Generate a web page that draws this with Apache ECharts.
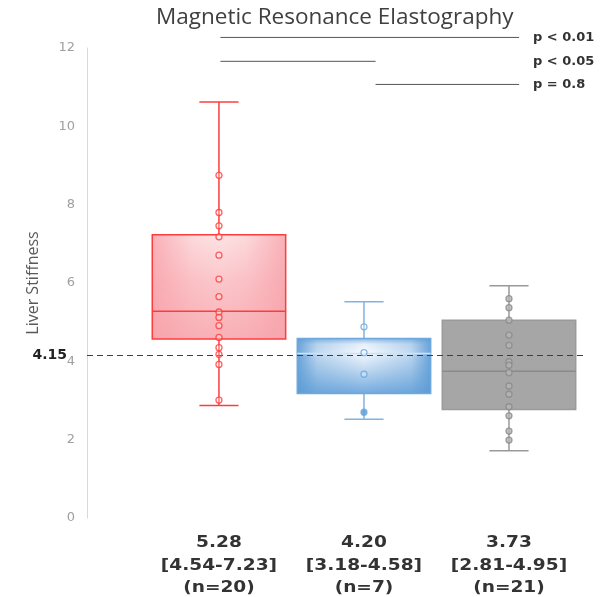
<!DOCTYPE html>
<html>
<head>
<meta charset="utf-8">
<script src="https://cdn.jsdelivr.net/npm/echarts@6/dist/echarts.min.js"></script>
<style>html,body{margin:0;padding:0;background:#fff}#c{width:601px;height:597px}</style>
</head>
<body>
<div id="c"></div>
<script>
// ---- data ----
const groupPos = [1, 2, 3];
const medianLabel = ['5.28', '4.20', '3.73'];
const iqrLabel = ['[4.54-7.23]', '[3.18-4.58]', '[2.81-4.95]'];
const counts = [20, 7, 21];
const boxMin = [2.87, 2.52, 1.72];
const boxQ1 = [4.57, 3.18, 2.77];
const boxMed = [5.28, 4.20, 3.75];
const boxQ3 = [7.23, 4.58, 5.05];
const boxMax = [10.62, 5.52, 5.93];
const redPoints = [8.75, 7.80, 7.46, 7.18, 6.71, 6.10, 5.65, 5.26, 5.12, 4.91, 4.61, 4.35, 4.18, 3.92, 3.01];
const bluePoints = [4.88, 4.22, 3.67, 2.70];
const grayPoints = [5.60, 5.37, 5.05, 4.67, 4.41, 3.99, 3.90, 3.71, 3.37, 3.16, 2.84, 2.61, 2.22, 1.99];
const refValue = 4.15;
const yTicks = [0, 2, 4, 6, 8, 10, 12];
// comparisons: [from, to, level, text]
const compFrom = [1.01, 1.01, 2.08];
const compTo = [3.07, 2.08, 3.07];
const compLevel = [12.27, 11.66, 11.07];
const compText = ['p < 0.01', 'p < 0.05', 'p = 0.8'];

// ---- styles ----
const LG = echarts.graphic.LinearGradient;
const boxStyles = [
  {
    stroke: '#ff3c3c',
    fill: new LG(0, 0, 0, 1, [{offset: 0, color: '#fde3e5'}, {offset: 0.45, color: '#fbc6ca'}, {offset: 1, color: '#f8b1b6'}]),
    overlay: new LG(0, 0, 1, 0, [{offset: 0, color: 'rgba(247,160,168,0.75)'}, {offset: 0.3, color: 'rgba(247,160,168,0.15)'}, {offset: 0.5, color: 'rgba(247,160,168,0)'}, {offset: 0.7, color: 'rgba(247,160,168,0.15)'}, {offset: 1, color: 'rgba(247,160,168,0.75)'}]),
    median: '#ff3c3c', whisker: '#ff3c3c'
  },
  {
    stroke: '#6fa8dc',
    fill: new LG(0, 0, 0, 1, [{offset: 0, color: '#8ebce6'}, {offset: 0.1, color: '#e6f0fa'}, {offset: 0.25, color: '#f7fafe'}, {offset: 0.55, color: '#c4dbf1'}, {offset: 1, color: '#74abdf'}]),
    overlay: new LG(0, 0, 1, 0, [{offset: 0, color: 'rgba(91,155,213,0.9)'}, {offset: 0.15, color: 'rgba(91,155,213,0.35)'}, {offset: 0.5, color: 'rgba(91,155,213,0)'}, {offset: 0.85, color: 'rgba(91,155,213,0.35)'}, {offset: 1, color: 'rgba(91,155,213,0.9)'}]),
    median: '#cfe2f4', whisker: '#7fb3e2'
  },
  { stroke: '#9a9a9a', fill: '#a6a6a6', overlay: null, median: '#8a8a8a', whisker: '#999999' }
];

const boxData = groupPos.map((x, i) => [x, boxMin[i], boxQ1[i], boxMed[i], boxQ3[i], boxMax[i]]);
const compData = compFrom.map((f, i) => [f, compTo[i], compLevel[i], i]);

function renderBox(params, api) {
  const i = params.dataIndex;
  const x = api.value(0);
  const lo = api.coord([x, api.value(1)]);
  const q1 = api.coord([x, api.value(2)]);
  const md = api.coord([x, api.value(3)]);
  const q3 = api.coord([x, api.value(4)]);
  const hi = api.coord([x, api.value(5)]);
  const base = api.coord([x, 0]);
  const w = api.size([0.92, 0])[0];
  const cw = api.size([0.27, 0])[0];
  const s = boxStyles[i];
  const cx = lo[0];
  const lw = 1.5;
  const rectShape = { x: cx - w / 2, y: q3[1], width: w, height: q1[1] - q3[1] };
  const children = [
    { type: 'line', shape: { x1: cx, y1: hi[1], x2: cx, y2: q3[1] }, style: { stroke: s.whisker, lineWidth: lw } },
    { type: 'line', shape: { x1: cx, y1: q1[1], x2: cx, y2: lo[1] }, style: { stroke: s.whisker, lineWidth: lw } },
    { type: 'line', shape: { x1: cx - cw / 2, y1: hi[1], x2: cx + cw / 2, y2: hi[1] }, style: { stroke: s.whisker, lineWidth: lw } },
    { type: 'line', shape: { x1: cx - cw / 2, y1: lo[1], x2: cx + cw / 2, y2: lo[1] }, style: { stroke: s.whisker, lineWidth: lw } },
    { type: 'rect', shape: rectShape, style: { fill: s.fill, stroke: null } }
  ];
  if (s.overlay) children.push({ type: 'rect', shape: rectShape, style: { fill: s.overlay, stroke: null } });
  children.push(
    { type: 'rect', shape: rectShape, style: { fill: null, stroke: s.stroke, lineWidth: lw } },
    { type: 'line', shape: { x1: cx - w / 2, y1: md[1], x2: cx + w / 2, y2: md[1] }, style: { stroke: s.median, lineWidth: 1.5 } },
    { type: 'text', x: cx, y: base[1] + 14, scaleX: 1.16, style: {
        text: medianLabel[i] + '\n' + iqrLabel[i] + '\n(n=' + counts[i] + ')',
        x: 0, y: 0, align: 'center', verticalAlign: 'top',
        font: 'bold 16px "DejaVu Sans"', lineHeight: 22.5, fill: '#333333'
    } }
  );
  return { type: 'group', children };
}

function renderComp(params, api) {
  const i = api.value(3);
  const a = api.coord([api.value(0), api.value(2)]);
  const b = api.coord([api.value(1), api.value(2)]);
  const t = api.coord([3.165, api.value(2)]);
  return {
    type: 'group',
    children: [
      { type: 'line', shape: { x1: a[0], y1: a[1], x2: b[0], y2: b[1] }, style: { stroke: '#555555', lineWidth: 1 } },
      { type: 'text', style: { text: compText[i], x: t[0], y: t[1], align: 'left', verticalAlign: 'middle', font: 'bold 13px "DejaVu Sans"', fill: '#333333' } }
    ]
  };
}

function pts(arr, x, styleFn) {
  return arr.map((v, k) => ({ value: [x, v], itemStyle: styleFn(v, k) }));
}
const redData = pts(redPoints, 1, () => ({ color: 'rgba(255,255,255,0.35)', borderColor: '#ff3c3c', borderWidth: 1.3 }));
const blueData = pts(bluePoints, 2, (v, k) => ({ color: k === 3 ? '#5b9bd5' : 'rgba(255,255,255,0.35)', borderColor: '#6fa8dc', borderWidth: 1.3 }));
const grayData = pts(grayPoints, 3, () => ({ color: '#b5b5b5', borderColor: '#8a8a8a', borderWidth: 1.3 }));

const chart = echarts.init(document.getElementById('c'), null, { renderer: 'canvas' });
chart.setOption({
  animation: false,
  backgroundColor: '#ffffff',
  title: {
    text: 'Magnetic Resonance Elastography',
    left: 151, top: 1,
    textStyle: { fontFamily: 'Open Sans', fontSize: 22.5, fontWeight: 'normal', color: '#404040' }
  },
  grid: { left: 87, top: 48, right: 14, bottom: 79 },
  xAxis: {
    type: 'value', min: 0.09, max: 3.538,
    show: false
  },
  yAxis: {
    type: 'value', min: yTicks[0], max: yTicks[yTicks.length - 1], interval: 2,
    name: 'Liver Stiffness', nameLocation: 'middle', nameGap: 46, nameRotate: 90,
    nameTextStyle: { fontFamily: 'Open Sans', fontSize: 16, color: '#595959' },
    axisLine: { show: true, lineStyle: { color: '#d9d9d9', width: 1 } },
    axisTick: { show: false },
    splitLine: { show: false },
    axisLabel: { color: '#a0a0a0', fontFamily: 'DejaVu Sans', fontSize: 13, margin: 12 }
  },
  series: [
    {
      type: 'custom', renderItem: renderBox, data: boxData, clip: false, z: 2,
      encode: { x: 0, y: [1, 2, 3, 4, 5] }, silent: true
    },
    {
      type: 'scatter', symbol: 'circle', symbolSize: 6, data: redData, z: 5, silent: true,
      markLine: {
        symbol: 'none', silent: true, animation: false,
        lineStyle: { type: [6, 4], color: '#404040', width: 1 },
        label: { position: 'start', formatter: String(refValue), color: '#222222', fontWeight: 'bold', fontSize: 14, fontFamily: 'DejaVu Sans', distance: 20 },
        data: [{ yAxis: refValue }]
      }
    },
    { type: 'scatter', symbol: 'circle', symbolSize: 6, data: blueData, z: 5, silent: true },
    { type: 'scatter', symbol: 'circle', symbolSize: 6, data: grayData, z: 5, silent: true },
    {
      type: 'custom', renderItem: renderComp, data: compData, clip: false, z: 3,
      encode: { x: [0, 1], y: 2 }, silent: true
    }
  ]
});
</script>
</body>
</html>
